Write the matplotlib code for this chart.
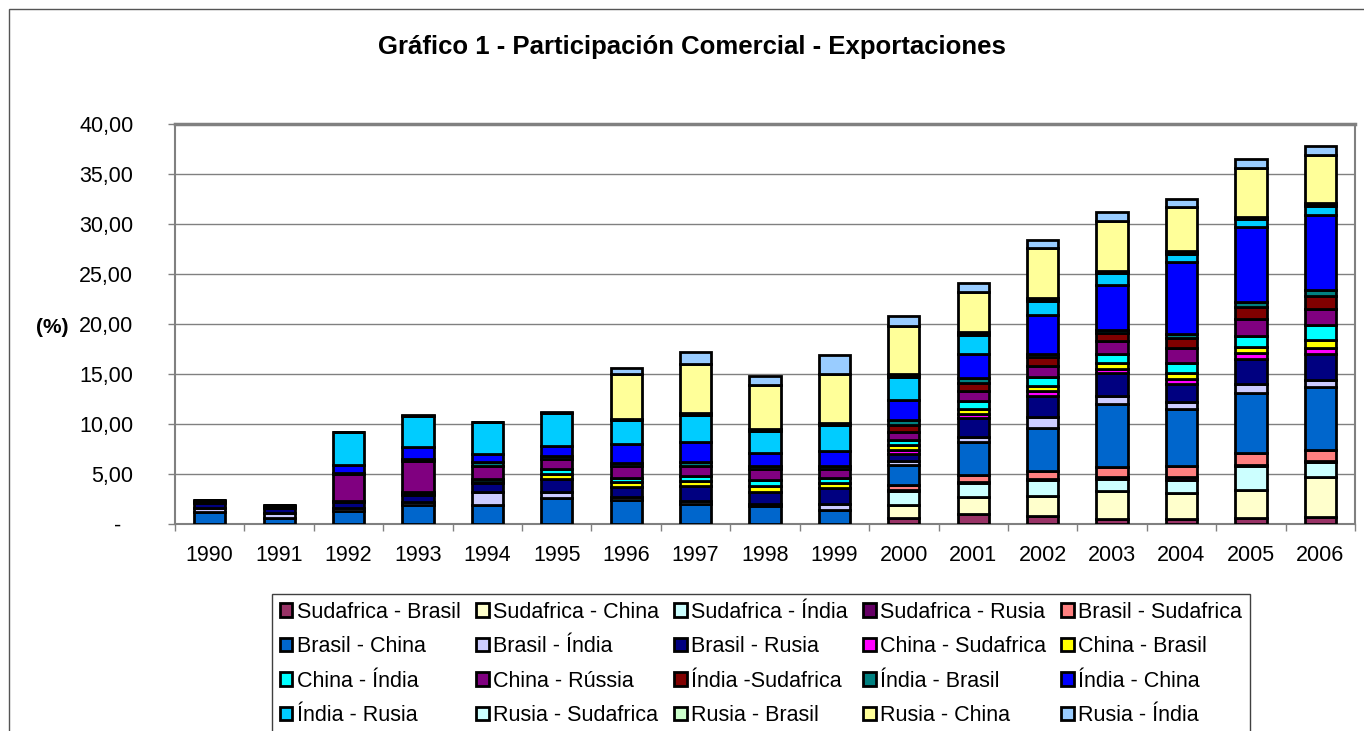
import numpy as np
import matplotlib.pyplot as plt
from matplotlib.patches import Rectangle

plt.rcParams['font.family'] = ['Liberation Sans', 'DejaVu Sans']

years = [str(y) for y in range(1990, 2007)]

# participación por par exportador - importador (%), 1990..2006
sudafrica_brasil = [0, 0, 0, 0, 0, 0, 0, 0, 0, 0, 0.6, 1.0, 0.8, 0.5, 0.5, 0.6, 0.7]
sudafrica_china = [0, 0, 0, 0, 0, 0, 0, 0, 0, 0, 1.35, 1.7, 2.0, 2.85, 2.6, 2.8, 4.0]
sudafrica_india = [0, 0, 0, 0, 0, 0, 0, 0, 0, 0, 1.4, 1.45, 1.6, 1.15, 1.35, 2.45, 1.5]
sudafrica_rusia = [0, 0, 0, 0, 0, 0, 0, 0, 0, 0, 0.05, 0.05, 0.15, 0.25, 0.25, 0.1, 0.15]
brasil_sudafrica = [0, 0, 0, 0, 0, 0, 0, 0, 0, 0, 0.5, 0.7, 0.8, 1.0, 1.15, 1.15, 1.1]
brasil_china = [1.2, 0.65, 1.3, 1.95, 1.9, 2.6, 2.4, 2.05, 1.8, 1.4, 2.0, 3.3, 4.3, 6.3, 5.65, 6.0, 6.25]
brasil_india = [0.45, 0.5, 0.35, 0.3, 1.35, 0.6, 0.3, 0.3, 0.2, 0.65, 0.45, 0.55, 1.1, 0.75, 0.75, 0.95, 0.75]
brasil_rusia = [0.45, 0.5, 0.6, 0.65, 0.85, 1.3, 1.0, 1.45, 1.25, 1.6, 0.7, 1.9, 2.1, 2.3, 1.75, 2.5, 2.6]
china_sudafrica = [0, 0, 0, 0, 0, 0, 0, 0, 0, 0, 0.4, 0.4, 0.45, 0.45, 0.55, 0.55, 0.6]
china_brasil = [0.05, 0, 0.05, 0.15, 0.1, 0.5, 0.5, 0.55, 0.6, 0.45, 0.45, 0.5, 0.5, 0.6, 0.6, 0.65, 0.75]
china_india = [0.05, 0, 0.05, 0.2, 0.3, 0.5, 0.45, 0.45, 0.6, 0.55, 0.55, 0.75, 0.9, 0.85, 1.0, 1.1, 1.5]
china_rusia = [0.1, 0.1, 2.7, 3.1, 1.35, 1.05, 1.15, 1.05, 1.1, 0.85, 0.8, 1.0, 1.1, 1.3, 1.5, 1.7, 1.6]
india_sudafrica = [0, 0, 0, 0, 0, 0, 0, 0, 0, 0, 0.65, 0.8, 0.95, 0.85, 1.0, 1.2, 1.35]
india_brasil = [0, 0, 0.1, 0.2, 0.35, 0.25, 0.35, 0.35, 0.3, 0.3, 0.55, 0.5, 0.3, 0.3, 0.4, 0.5, 0.6]
india_china = [0.1, 0.1, 0.8, 1.2, 0.8, 1.0, 1.85, 2.05, 1.25, 1.5, 2.0, 2.4, 3.85, 4.5, 7.2, 7.5, 7.5]
india_rusia = [0, 0.1, 3.3, 3.1, 3.25, 3.3, 2.45, 2.65, 2.25, 2.6, 2.25, 1.95, 1.45, 1.15, 0.75, 0.8, 0.85]
rusia_sudafrica = [0, 0, 0, 0, 0, 0, 0, 0, 0, 0, 0.1, 0.1, 0.1, 0.1, 0.15, 0.1, 0.1]
rusia_brasil = [0, 0, 0, 0, 0, 0, 0.1, 0.25, 0.2, 0.25, 0.2, 0.15, 0.15, 0.15, 0.2, 0.1, 0.15]
rusia_china = [0, 0, 0, 0, 0, 0, 4.45, 4.9, 4.35, 4.9, 4.8, 4.0, 5.0, 5.0, 4.35, 4.9, 4.8]
rusia_india = [0, 0, 0, 0.1, 0, 0.1, 0.6, 1.2, 0.95, 1.85, 1.0, 0.9, 0.8, 0.85, 0.85, 0.9, 0.95]

labels = ["Sudafrica - Brasil", "Sudafrica - China", "Sudafrica - Índia", "Sudafrica - Rusia",
          "Brasil - Sudafrica", "Brasil - China", "Brasil - Índia", "Brasil - Rusia",
          "China - Sudafrica", "China - Brasil", "China - Índia", "China - Rússia",
          "Índia -Sudafrica", "Índia - Brasil", "Índia - China", "Índia - Rusia",
          "Rusia - Sudafrica", "Rusia - Brasil", "Rusia - China", "Rusia - Índia"]
series = [sudafrica_brasil, sudafrica_china, sudafrica_india, sudafrica_rusia,
          brasil_sudafrica, brasil_china, brasil_india, brasil_rusia,
          china_sudafrica, china_brasil, china_india, china_rusia,
          india_sudafrica, india_brasil, india_china, india_rusia,
          rusia_sudafrica, rusia_brasil, rusia_china, rusia_india]
colors = ["#993366", "#FFFFCC", "#CCFFFF", "#660066", "#FF8080",
          "#0066CC", "#CCCCFF", "#000080", "#FF00FF", "#FFFF00",
          "#00FFFF", "#800080", "#800000", "#008080", "#0000FF",
          "#00CCFF", "#CCFFFF", "#CCFFCC", "#FFFF99", "#99CCFF"]

W, H = 1364, 731
fig = plt.figure(figsize=(W / 100, H / 100), dpi=100)
ax = fig.add_axes([175 / W, 1 - 524 / H, 1180 / W, 400 / H])

x = np.arange(len(years))
bottom = np.zeros(len(years))
handles = []
for name, col, vals in zip(labels, colors, series):
    vals = np.array(vals, dtype=float)
    b = ax.bar(x, vals, 0.45, bottom=bottom, color=col, edgecolor="black",
               linewidth=2, label=name, zorder=3)
    handles.append(b)
    bottom += vals

ax.set_xlim(-0.5, len(years) - 0.5)
ax.set_ylim(0, 40)

# ejes estilo Excel
yt = np.arange(0, 41, 5)
ax.set_yticks(yt)
ax.set_yticklabels(["-  "] + [f"{v:.2f}".replace(".", ",") for v in yt[1:]], fontsize=15.5)
ax.tick_params(axis="y", direction="out", length=5, width=1, color="#808080", pad=25)
ax.set_xticks(x)
ax.set_xticklabels(years, fontsize=15.5)
ax.set_xticks(np.arange(-0.5, len(years), 1), minor=True)
ax.tick_params(axis="x", which="major", length=0, pad=15)
ax.tick_params(axis="x", which="minor", direction="out", length=5, width=1, color="#808080")
ax.yaxis.grid(True, color="#808080", linewidth=1, zorder=0)
ax.set_axisbelow(True)
for s in ["left", "bottom", "right"]:
    ax.spines[s].set_color("#808080")
    ax.spines[s].set_linewidth(1.5)
ax.spines["top"].set_color("#808080")
ax.spines["top"].set_linewidth(2.5)

fig.text(0.507, 1 - 47 / H, "Gráfico 1 - Participación Comercial - Exportaciones",
         ha="center", va="center", fontsize=18.5, fontweight="bold")
fig.text(52 / W, 1 - 327 / H, "(%)", ha="center", va="center", fontsize=15, fontweight="bold")

# leyenda: orden por filas como en el original
nrow, ncol = 4, 5
order = [i * ncol + j for j in range(ncol) for i in range(nrow)]
leg = fig.legend([handles[k] for k in order], [labels[k] for k in order], ncol=ncol,
                 loc="upper left", bbox_to_anchor=(272 / W, 1 - 594 / H),
                 bbox_transform=fig.transFigure, fontsize=15.5, frameon=True, fancybox=False,
                 edgecolor="#404040", framealpha=1, borderaxespad=0, borderpad=0.35,
                 handlelength=0.6, handleheight=0.6, handletextpad=0.2,
                 labelspacing=0.63, columnspacing=0.7)
leg.get_frame().set_linewidth(1)

# borde del área del gráfico
fig.patches.append(Rectangle((9 / W, -0.1), 1.2, 1.1 - 9 / H, transform=fig.transFigure,
                             fill=False, edgecolor="#555555", linewidth=1))

fig.savefig("out.png", dpi=100)
